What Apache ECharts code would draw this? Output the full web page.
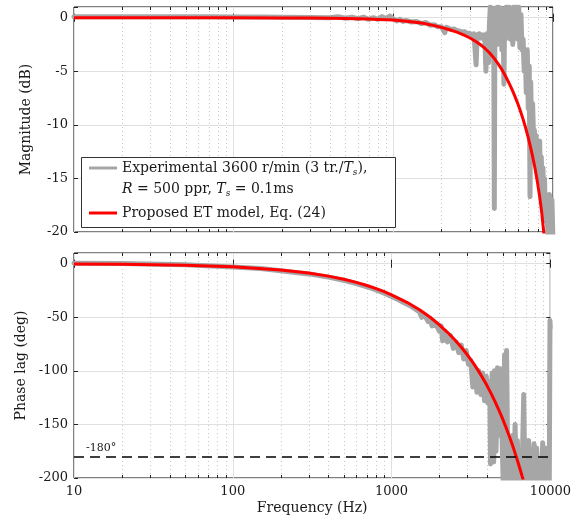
<!DOCTYPE html>
<html><head><meta charset="utf-8">
<script src="https://cdn.jsdelivr.net/npm/echarts@6/dist/echarts.min.js"></script>
<style>html,body{margin:0;padding:0;background:#fff}#c{width:574px;height:518px}</style>
</head><body><div id="c"></div>
<script>
// ---- data ----
const xTicks = [10, 100, 1000, 10000];
const magTicks = [-20, -15, -10, -5, 0];
const phaseTicks = [-200, -150, -100, -50, 0];
const minorFreqs = [20,30,40,50,60,70,80,90,200,300,400,500,600,700,800,900,2000,3000,4000,5000,6000,7000,8000,9000];
const refPhase = -180;

const expName = 'Experimental';
const modelName = 'Proposed ET model, Eq. (24)';

// experimental magnitude [Hz, dB]
const magExp = [[10,0.1],[15,0.1],[20,0.1],[30,0.1],[50,0.1],[70,0.08],[100,0.07],[150,0.06],[200,0.05],[300,0.03],[400,0.0],[450,0.1],[500,-0.05],[550,0.05],[600,-0.1],[650,0.05],[700,-0.15],[750,0.0],[800,-0.15],[850,0.1],[900,-0.1],[950,0.15],[1000,-0.1],[1050,-0.3],[1100,-0.15],[1150,-0.35],[1200,-0.25],[1300,-0.4],[1400,-0.35],[1500,-0.55],[1600,-0.45],[1700,-0.7],[1800,-0.65],[1900,-0.85],[2000,-0.85],[2100,-1.4],[2150,-0.9],[2200,-1.0],[2300,-1.1],[2400,-1.05],[2500,-1.2],[2600,-1.25],[2700,-1.35],[2800,-1.3],[2900,-1.5],[3000,-1.45],[3100,-1.6],[3200,-1.5],[3300,-4.4],[3350,-1.6],[3450,-1.5],[3550,-1.9],[3650,-1.6],[3750,-2.3],[3800,-5.0],[3850,-1.5],[3900,-3.0],[3950,-4.2],[4000,-0.5],[4050,1.0],[4100,-2.0],[4150,0.8],[4200,-3.5],[4250,0.5],[4290,-17.8],[4330,0.9],[4380,-1.0],[4430,0.8],[4480,-2.5],[4530,1.0],[4580,-1.5],[4630,0.7],[4680,-2.0],[4730,0.9],[4780,-3.0],[4830,0.8],[4880,-1.5],[4930,-6.2],[4980,0.6],[5030,-2.0],[5100,1.0],[5200,-1.0],[5300,1.0],[5400,-2.0],[5500,0.9],[5600,-2.5],[5700,1.0],[5800,-1.5],[5900,1.0],[6000,-2.0],[6100,1.0],[6200,-2.8],[6300,0.3],[6400,-3.0],[6500,-2.0],[6600,-5.0],[6700,-3.0],[6800,-7.0],[6900,-3.0],[7000,-8.5],[7100,-4.5],[7180,-16.7],[7250,-6.0],[7350,-10.5],[7450,-8.0],[7550,-11.0],[7650,-10.5],[7750,-13.0],[7850,-11.0],[7950,-14.5],[8050,-11.5],[8150,-15.0],[8250,-11.5],[8350,-15.5],[8450,-13.0],[8550,-17.0],[8650,-14.0],[8750,-18.5],[8850,-15.0],[8950,-19.0],[9100,-16.5],[9300,-20.5],[9500,-16.5],[9700,-20.5],[9850,-17.0],[10000,-21]];

// experimental phase [Hz, deg]
const phaseExp = [[10,0.5],[20,0.2],[50,-1],[100,-3],[150,-4.5],[200,-6.5],[300,-9.5],[400,-12.5],[500,-15.5],[600,-18.5],[700,-21.5],[800,-24.5],[900,-27.5],[1000,-30.5],[1100,-33.5],[1200,-36.5],[1300,-39],[1400,-42],[1500,-45],[1550,-50],[1600,-47],[1700,-54],[1750,-51],[1800,-58],[1900,-56],[2000,-63],[2050,-58],[2100,-72],[2150,-64],[2250,-73],[2350,-67],[2450,-79],[2550,-73],[2650,-83],[2750,-76],[2850,-89],[2950,-81],[3050,-94],[3150,-90],[3250,-115],[3350,-97],[3450,-120],[3550,-100],[3650,-122],[3750,-102],[3850,-128],[3950,-105],[4050,-130],[4150,-110],[4200,-187],[4300,-102],[4400,-185],[4450,-100],[4550,-175],[4650,-97],[4750,-160],[4850,-98],[4950,-155],[5050,-205],[5150,-85],[5250,-210],[5300,-81],[5400,-190],[5500,-205],[5600,-175],[5700,-210],[5800,-160],[5900,-205],[6000,-150],[6100,-210],[6200,-165],[6300,-205],[6400,-180],[6500,-210],[6650,-190],[6800,-122],[6900,-200],[7000,-170],[7150,-210],[7300,-165],[7450,-205],[7600,-175],[7750,-210],[7900,-168],[8050,-205],[8200,-172],[8400,-210],[8600,-185],[8800,-205],[8950,-167],[9100,-210],[9300,-172],[9500,-205],[9700,-185],[9850,-205],[9950,-53],[10000,-60]];

// model (red) curves, read at these frequencies
const modelFreq = [10,20,50,100,200,300,400,500,600,700,800,900,1000,1250,1500,1750,2000,2250,2500,2750,3000,3250,3500,3750,4000,4250,4500,4750,5000,5250,5500,5750,6000,6250,6500,6750,7000,7250,7500,7750,8000,8250,8500,8750,9000];
const modelMagDb = [0,0,0,-0.01,-0.02,-0.03,-0.05,-0.08,-0.1,-0.13,-0.16,-0.19,-0.22,-0.35,-0.5,-0.69,-0.9,-1.12,-1.35,-1.6,-1.87,-2.17,-2.5,-2.87,-3.27,-3.73,-4.23,-4.77,-5.35,-5.96,-6.6,-7.27,-7.97,-8.71,-9.49,-10.32,-11.2,-12.14,-13.14,-14.22,-15.4,-16.7,-18.2,-20.0,-22.2];
const modelPhaseDeg = [-0.3,-0.6,-1.5,-2.9,-5.8,-8.7,-11.6,-14.5,-17.4,-20.3,-23.2,-26.1,-29,-36,-43,-50,-57,-64,-71,-78,-85,-92.1,-99.3,-106.6,-114,-121.5,-129.1,-136.8,-144.6,-152.5,-160.5,-168.6,-176.8,-185.1,-193.5,-202,-210.6,-219.3,-228.1,-237,-246,-255.1,-264.3,-273.6,-283];

// ---- chart ----
const FONT = 'DejaVu Serif';
const INK = '#1a1a1a';
const tickTxt = {fontFamily: FONT, fontSize: 13, color: INK};
const nameTxt = {fontFamily: FONT, fontSize: 14, color: INK};
const chart = echarts.init(document.getElementById('c'), null, {renderer: 'canvas'});

function minorRender(params, api) {
  const cs = params.coordSys;
  const x = Math.round(api.coord([api.value(0), api.value(1)])[0]) + 0.5;
  const top = cs.y, bot = cs.y + cs.height;
  return {type: 'group', silent: true, children: [
    {type: 'line', shape: {x1: x, y1: top, x2: x, y2: bot}, style: {stroke: '#c4c4c4', lineWidth: 1, lineDash: [1, 3]}},
    {type: 'line', shape: {x1: x, y1: bot, x2: x, y2: bot - 3}, style: {stroke: '#222', lineWidth: 1}},
    {type: 'line', shape: {x1: x, y1: top, x2: x, y2: top + 3}, style: {stroke: '#222', lineWidth: 1}}
  ]};
}

function xAx(grid, pos, labels, name) {
  return {
    gridIndex: grid, type: 'log', logBase: 10, min: xTicks[0], max: xTicks[xTicks.length - 1], position: pos,
    axisLine: {show: false},
    axisTick: {show: true, inside: true, length: 4, lineStyle: {color: '#222'}},
    axisLabel: {show: labels, margin: 7, ...tickTxt, formatter: v => String(Math.round(v))},
    splitLine: {show: pos === 'bottom', lineStyle: {color: '#e0e0e0', width: 1}},
    name: name || '', nameLocation: 'middle', nameGap: 23, nameTextStyle: {...nameTxt}
  };
}
function yAx(grid, pos, ticks, min, max, step, labels, name) {
  return {
    gridIndex: grid, type: 'value', min: min, max: max, interval: step, position: pos,
    axisLine: {show: false},
    axisTick: {show: true, inside: true, length: 4, lineStyle: {color: '#222'}},
    axisLabel: {show: labels, margin: 6, ...tickTxt, formatter: v => ticks.includes(v) ? String(v) : ''},
    splitLine: {show: pos === 'left', lineStyle: {color: '#e0e0e0', width: 1}},
    name: name || '', nameLocation: 'middle', nameGap: 41, nameTextStyle: {...nameTxt}
  };
}

const rich = {
  n: {fontFamily: FONT, fontSize: 14, color: INK, lineHeight: 18},
  i: {fontFamily: FONT, fontSize: 14, fontStyle: 'italic', color: INK, lineHeight: 18},
  sub: {fontFamily: FONT, fontSize: 9, fontStyle: 'italic', color: INK, verticalAlign: 'bottom', lineHeight: 13}
};
const richFill = {
  n: {fontFamily: FONT, fontSize: 14, fill: INK, lineHeight: 18},
  i: {fontFamily: FONT, fontSize: 14, fontStyle: 'italic', fill: INK, lineHeight: 18},
  sub: {fontFamily: FONT, fontSize: 9, fontStyle: 'italic', fill: INK, verticalAlign: 'bottom', lineHeight: 13}
};

const option = {
  backgroundColor: '#fff',
  animation: false,
  grid: [
    {left: 74, right: 21, top: 7, height: 225, show: true, borderColor: '#000', borderWidth: 1, backgroundColor: 'transparent'},
    {left: 74, right: 21, top: 253, height: 225, show: true, borderColor: '#000', borderWidth: 1, backgroundColor: 'transparent'}
  ],
  xAxis: [xAx(0, 'bottom', false), xAx(0, 'top', false), xAx(1, 'bottom', true, 'Frequency (Hz)'), xAx(1, 'top', false)],
  yAxis: [
    yAx(0, 'left', magTicks, magTicks[0], 1, 5, true, 'Magnitude (dB)'),
    yAx(0, 'right', magTicks, magTicks[0], 1, 5, false),
    yAx(1, 'left', phaseTicks, phaseTicks[0], 10, 50, true, 'Phase lag (deg)'),
    yAx(1, 'right', phaseTicks, phaseTicks[0], 10, 50, false)
  ],
  legend: {
    left: 89, top: 159, orient: 'vertical', itemWidth: 28, itemHeight: 3, itemGap: 27, padding: 0,
    icon: 'rect',
    data: [expName, modelName],
    textStyle: {fontFamily: FONT, fontSize: 14, color: INK, lineHeight: 18, rich: rich},
    formatter: name => name === expName ? '{n|Experimental 3600 r/min (3 tr./}{i|T}{sub|s}{n|),}' : '{n|' + name + '}'
  },
  graphic: [
    {type: 'rect', z: 3, silent: true, shape: {x: 81.5, y: 157.5, width: 314, height: 70}, style: {fill: '#fff', stroke: '#333', lineWidth: 1}},
    {type: 'text', z: 10, silent: true, x: 122, y: 180, style: {
      text: '{i|R}{n| = 500 ppr, }{i|T}{sub|s}{n| = 0.1ms}',
      rich: richFill
    }}
  ],
  series: [
    {type: 'custom', xAxisIndex: 0, yAxisIndex: 0, z: 1, silent: true, renderItem: minorRender, data: minorFreqs.map(f => [f, 0]), encode: {x: 0, y: 1}},
    {type: 'custom', xAxisIndex: 2, yAxisIndex: 2, z: 1, silent: true, renderItem: minorRender, data: minorFreqs.map(f => [f, 0]), encode: {x: 0, y: 1}},
    {name: expName, type: 'line', xAxisIndex: 0, yAxisIndex: 0, data: magExp, showSymbol: false, symbol: 'none', clip: true,
      lineStyle: {color: '#a6a6a6', width: 5, join: 'round', cap: 'round'}, itemStyle: {color: '#a6a6a6'}, z: 2},
    {name: expName, type: 'line', xAxisIndex: 2, yAxisIndex: 2, data: phaseExp, showSymbol: false, symbol: 'none', clip: true,
      lineStyle: {color: '#a6a6a6', width: 5, join: 'round', cap: 'round'}, itemStyle: {color: '#a6a6a6'}, z: 2},
    {name: modelName, type: 'line', xAxisIndex: 0, yAxisIndex: 0, data: modelFreq.map((f, i) => [f, modelMagDb[i]]), smooth: false, showSymbol: false, symbol: 'none', clip: true,
      lineStyle: {color: '#ff0000', width: 3, join: 'round'}, itemStyle: {color: '#ff0000'}, z: 3},
    {name: modelName, type: 'line', xAxisIndex: 2, yAxisIndex: 2, data: modelFreq.map((f, i) => [f, modelPhaseDeg[i]]), smooth: false, showSymbol: false, symbol: 'none', clip: true,
      lineStyle: {color: '#ff0000', width: 3, join: 'round'}, itemStyle: {color: '#ff0000'}, z: 3,
      markLine: {silent: true, symbol: 'none', animation: false, z: 5,
        lineStyle: {color: '#000', width: 1.5, type: [10, 6]},
        label: {show: true, position: 'insideStartTop', formatter: '-180°', fontFamily: FONT, fontSize: 11, color: INK, distance: [12, 3]},
        data: [{yAxis: refPhase}]}}
  ]
};
chart.setOption(option);
</script></body></html>
